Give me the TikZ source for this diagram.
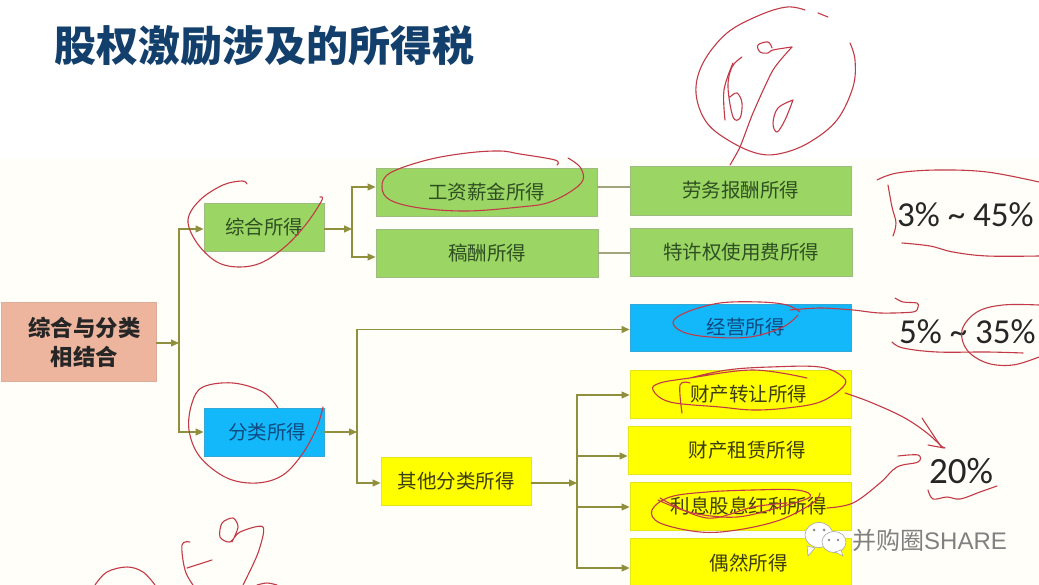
\documentclass[tikz,border=0pt]{standalone}
\usepackage{fontspec}
\setmainfont{Noto Sans CJK SC}
\newfontfamily\pctfont{Carlito}
\newfontfamily\markfont{Liberation Sans}
\usepackage{xcolor}
\usetikzlibrary{positioning, arrows.meta, calc}
\definecolor{cCream}   {HTML}{FFFEF8}
\definecolor{cTitle}   {HTML}{123F6B}
\definecolor{cRoot}    {HTML}{EDB59D}
\definecolor{cGreen}   {HTML}{9BD563}
\definecolor{cGreenTxt}{HTML}{2E4F22}
\definecolor{cBlue}    {HTML}{12B8FA}
\definecolor{cBlueTxt} {HTML}{0F4A80}
\definecolor{cYellow}  {HTML}{FFFF00}
\definecolor{cYellowTxt}{HTML}{3D3D12}
\definecolor{cFlow}    {HTML}{8F8F3E}
\definecolor{cLink}    {HTML}{A3A37C}
\definecolor{cInk}     {HTML}{C23A48}
\tikzset{
  boxBase/.style={rectangle, minimum width=221pt, minimum height=48pt, inner sep=0pt,
    font=\fontsize{19.5}{23}\selectfont},
  greenBox/.style={boxBase, fill=cGreen, draw=cGreen!75!black!70!white, line width=0.8pt, text=cGreenTxt},
  blueBox/.style={boxBase, fill=cBlue, draw=cBlue!70!gray, line width=0.8pt, text=cBlueTxt},
  yellowBox/.style={boxBase, fill=cYellow, draw=cYellow!80!gray, line width=0.8pt, text=cYellowTxt},
  flowArrow/.style={-{Triangle[length=8pt,width=7pt]}, draw=cFlow, line width=1.1pt},
  linkLine/.style={draw=cLink, line width=1.1pt},
  pctText/.style={font=\pctfont\fontsize{35}{40}\selectfont, text=black!85, inner sep=0pt},
  inkStroke/.style={draw=cInk, line width=1.1pt, line cap=round, line join=round},
}
\begin{document}
\begin{tikzpicture}[x=1pt, y=-1pt]
  \useasboundingbox (0,0) rectangle (1039,585);
  \fill[white] (0,0) rectangle (1039,585);
  \fill[cCream] (0,158) rectangle (1039,585);

  \node[font=\bfseries\fontsize{42}{46}\selectfont, text=cTitle, inner sep=0pt] (title) at (264,46) {股权激励涉及的所得税};

  % boxes
  \node[boxBase, minimum width=155pt, minimum height=79pt, fill=cRoot, draw=cRoot!85!gray, line width=0.8pt,
        font=\bfseries\fontsize{22.4}{29}\selectfont, text=black!85, align=center] (root) at (78.5,342)
        {\hspace*{12pt}综合与分类\\\hspace*{12pt}相结合};
  \node[greenBox, minimum width=120pt] (zonghe) at (264,227) {综合所得};
  \node[blueBox, minimum width=120pt] (fenlei) at (264,432) {\hspace*{6pt}分类所得};
  \node[greenBox] (gongzi) at (486.5,192) {工资薪金所得};
  \node[greenBox, minimum width=222pt] (gaochou) at (487,253) {稿酬所得};
  \node[greenBox, minimum height=49pt] (laowu) at (740.5,190.5) {劳务报酬所得};
  \node[greenBox, minimum width=222pt] (texu) at (741,252) {特许权使用费所得};
  \node[blueBox, minimum height=47pt] (jingying) at (740.5,327.5) {\hspace*{10pt}经营所得};
  \node[yellowBox, minimum width=150pt] (qita) at (456,481) {其他分类所得};
  \node[yellowBox] (zhuanrang) at (740.5,394) {\hspace*{16pt}财产转让所得};
  \node[yellowBox, minimum width=222pt] (zulin) at (739,450) {\hspace*{16pt}财产租赁所得};
  \node[yellowBox] (lixi) at (740.5,506) {\hspace*{16pt}利息股息红利所得};
  \node[yellowBox, minimum height=50pt] (ouran) at (740.5,563) {\hspace*{16pt}偶然所得};

  % connectors
  \coordinate (spineA) at (179,343);
  \coordinate (spineB) at (352,229);
  \coordinate (spineC) at (357,432);
  \coordinate (spineD) at (577,483);
  \draw[flowArrow] (root.east |- spineA) -- (spineA);
  \draw[flowArrow] (spineA) |- ([yshift=-2pt]zonghe.west);
  \draw[flowArrow] (spineA) |- (fenlei.west);
  \draw[flowArrow] ([yshift=-2pt]zonghe.east) -- (spineB);
  \draw[flowArrow] (spineB) |- ([yshift=5pt]gongzi.west);
  \draw[flowArrow] (spineB) |- ([yshift=-4pt]gaochou.west);
  \draw[linkLine] ([yshift=5pt]gongzi.east) -- ([yshift=5pt]gongzi.east -| laowu.west);
  \draw[linkLine] (gaochou.east) -- (gaochou.east -| texu.west);
  \draw[flowArrow] (fenlei.east) -- (spineC);
  \draw[flowArrow] (spineC) |- ([yshift=-2pt]jingying.west);
  \draw[flowArrow] (spineC) |- ([yshift=-2pt]qita.west);
  \draw[flowArrow] ([yshift=-2pt]qita.east) -- (spineD);
  \draw[flowArrow] (spineD) |- ([yshift=-1pt]zhuanrang.west);
  \draw[flowArrow] (spineD) |- ([yshift=-6pt]zulin.west);
  \draw[flowArrow] (spineD) |- ([yshift=-1pt]lixi.west);
  \draw[flowArrow] (spineD) |- ([yshift=-5pt]ouran.west);

  % rates
  \node[pctText, anchor=west] (rateA) at (897,215) {3\% \textasciitilde\ 45\%};
  \node[pctText, anchor=west] (rateB) at (899,332) {5\% \textasciitilde\ 35\%};
  \node[pctText, font=\pctfont\fontsize{37}{40}\selectfont, anchor=west] (rateC) at (929,471) {20\%};

  % pen marks
  \draw[inkStroke] plot[smooth, tension=0.6] coordinates {(247,184)(242,181)(223,185)(200,200)(188,220)(197,243)(217,262)(240,267)(263,262)(287,245)(307,223)(322,200)(320,197)};
  \draw[inkStroke] plot[smooth, tension=0.6] coordinates {(557,165)(555,160)(520,154)(500,151)(467,153)(427,160)(390,173)(382,187)(390,200)(420,208)(467,211)(520,207)(547,203)(570,192)(583,180)(580,167)(568,158)};
  \draw[inkStroke] plot[smooth, tension=0.6] coordinates {(805,10)(787,7)(760,15)(727,33)(703,63)(696,93)(707,123)(733,143)(760,154)(783,153)(810,142)(837,120)(853,87)(855,60)(850,43)};
  \draw[inkStroke] plot[smooth, tension=0.6] coordinates {(818,13)(828,17)};
  \draw[inkStroke] plot[smooth, tension=0.4] coordinates {(730,165)(740,147)(753,113)(773,70)(792,47)};
  \draw[inkStroke] plot[smooth, tension=0.6] coordinates {(792,47)(773,50)(768,53)(760,52)(758,45)(768,42)(772,48)};
  \draw[inkStroke] plot[smooth, tension=0.6] coordinates {(742,57)(732,67)(728,87)(733,117)(740,118)(742,103)(737,93)(730,97)};
  \draw[inkStroke] plot[smooth, tension=0.6] coordinates {(725,120)(724,90)(733,63)};
  \draw[inkStroke] plot[smooth, tension=0.6] coordinates {(793,100)(778,108)(773,123)(777,132)(785,120)(793,100)};
  \draw[inkStroke] plot[smooth, tension=0.6] coordinates {(877,180)(897,173)(937,170)(987,172)(1039,182)};
  \draw[inkStroke] plot[smooth, tension=0.6] coordinates {(888,185)(892,207)(896,223)(893,236)};
  \draw[inkStroke] plot[smooth, tension=0.6] coordinates {(902,243)(930,246)(953,252)(987,256)(1039,256)};
  \draw[inkStroke] plot[smooth, tension=0.6] coordinates {(800,312)(787,305)(760,302)(720,303)(687,312)(673,322)(683,332)(710,337)(750,337)(783,327)(798,315)};
  \draw[inkStroke] plot[smooth, tension=0.5] coordinates {(790,310)(820,308)(853,310)(880,313)(913,312)(918,307)(917,303)(903,302)(895,298)};
  \draw[inkStroke] plot[smooth, tension=0.6] coordinates {(892,342)(903,348)(937,352)(987,352)(1023,353)};
  \draw[inkStroke] plot[smooth, tension=0.6] coordinates {(1039,305)(1003,305)(977,312)(962,330)(967,350)(987,363)(1013,365)(1039,357)};
  \draw[inkStroke] plot[smooth, tension=0.6] coordinates {(807,378)(753,370)(690,378)(660,383)(653,390)(670,402)(720,407)(753,410)(787,408)(820,402)(843,387)(843,377)(820,367)(770,367)(727,370)(690,378)};
  \draw[inkStroke] plot[smooth, tension=0.6] coordinates {(682,413)(680,385)(690,383)};
  \draw[inkStroke] plot[smooth, tension=0.6] coordinates {(845,393)(870,402)(903,417)(927,433)(943,448)};
  \draw[inkStroke] plot[smooth, tension=0.3] coordinates {(922,418)(940,445)(945,448)(928,445)};
  \draw[inkStroke] plot[smooth, tension=0.6] coordinates {(658,500)(693,513)(737,517)(780,507)(810,497)(797,490)(753,490)(707,492)(670,497)(652,510)(660,523)(700,532)(737,530)(780,520)(813,503)(820,493)};
  \draw[inkStroke] plot[smooth, tension=0.6] coordinates {(660,498)(707,518)(753,507)(787,503)};
  \draw[inkStroke] plot[smooth, tension=0.6] coordinates {(827,508)(853,503)(880,483)(897,467)(918,462)(918,455)(898,456)};
  \draw[inkStroke] plot[smooth, tension=0.6] coordinates {(928,490)(933,499)(947,497)(960,499)(980,492)(997,486)};
  \draw[inkStroke] plot[smooth, tension=0.6] coordinates {(278,408)(263,392)(233,383)(203,387)(192,403)(189,430)(200,457)(227,478)(257,483)(283,475)(303,453)(317,427)(323,407)};
  \draw[inkStroke] plot[smooth, tension=0.6] coordinates {(95,585)(107,572)(127,567)(143,572)(155,585)};
  \draw[inkStroke] plot[smooth, tension=0.6] coordinates {(190,542)(182,545)(185,570)(193,585)};
  \draw[inkStroke] plot[smooth, tension=0.6] coordinates {(187,568)(212,560)};
  \draw[inkStroke] plot[smooth, tension=0.5] coordinates {(243,585)(258,553)(263,527)(240,532)(230,542)(220,537)(222,523)(233,518)(238,527)(232,542)};
  \draw[inkStroke] plot[smooth, tension=0.6] coordinates {(257,585)(267,583)(277,585)};

  % watermark
  \fill[white, draw=black!35, line width=0.6pt] (819,535) ellipse [x radius=14pt, y radius=12.5pt];
  \fill[white, draw=black!35, line width=0.6pt] (807,546) -- (808,556) -- (815,548) -- cycle;
  \fill[white, draw=black!35, line width=0.6pt] (834,542) ellipse [x radius=12pt, y radius=10.5pt];
  \fill[white, draw=black!35, line width=0.6pt] (841,550) -- (843,556) -- (835,552) -- cycle;
  \fill[black!45] (814,530) circle (1.5pt) (824,530) circle (1.5pt) (829,540) circle (1.3pt) (838,540) circle (1.3pt);
  \node[font=\fontsize{24}{26}\selectfont, text=black!50, inner sep=0pt, anchor=west] (mark) at (852,540) {并购圈{\markfont SHARE}};
\end{tikzpicture}
\end{document}
